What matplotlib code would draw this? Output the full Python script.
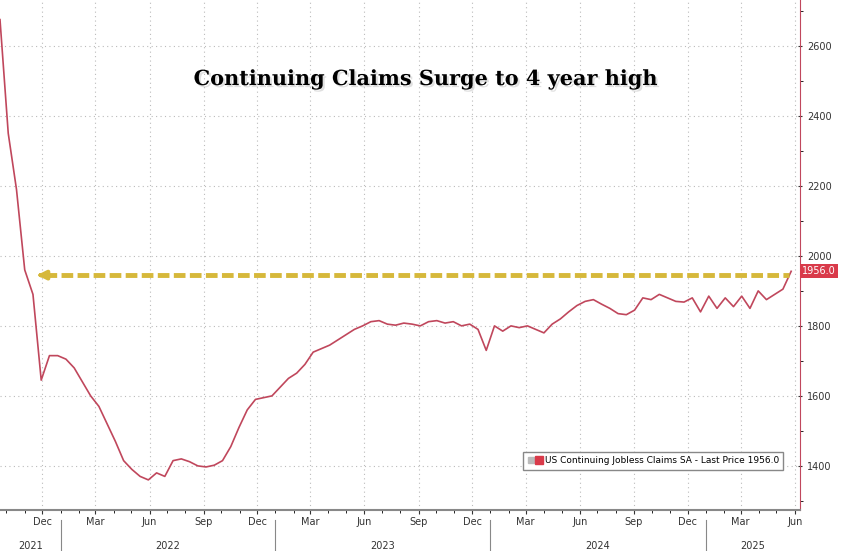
import matplotlib
matplotlib.use("Agg")
import matplotlib.pyplot as plt
import matplotlib.dates as mdates
import matplotlib.patheffects as pe
from matplotlib.lines import Line2D
from matplotlib.legend_handler import HandlerTuple
import pandas as pd

start = "2021-10-02"
claims = [2675, 2350, 2190, 1960, 1890, 1645, 1715, 1715, 1705, 1680,
          1640, 1600, 1570, 1520, 1470, 1415, 1390, 1370, 1360, 1380,
          1370, 1415, 1420, 1412, 1400, 1397, 1402, 1415, 1455, 1510,
          1560, 1590, 1595, 1600, 1625, 1650, 1665, 1690, 1725, 1735,
          1745, 1760, 1775, 1790, 1800, 1812, 1815, 1805, 1802, 1808,
          1805, 1800, 1812, 1815, 1808, 1812, 1800, 1805, 1790, 1730,
          1800, 1785, 1800, 1795, 1800, 1790, 1780, 1805, 1820, 1840,
          1858, 1870, 1875, 1862, 1850, 1835, 1832, 1845, 1880, 1875,
          1890, 1880, 1870, 1868, 1880, 1840, 1885, 1850, 1880, 1855,
          1885, 1850, 1900, 1875, 1890, 1905, 1956]
dates = pd.date_range(start, periods=len(claims), freq="14D") - pd.Timedelta(days=12)
last_price = 1956.0
title = "Continuing Claims Surge to 4 year high"
years = ["2021", "2022", "2023", "2024", "2025"]

fig = plt.figure(figsize=(8.48, 5.51), dpi=100)
ax = fig.add_axes([0, 1 - 510 / 551, 800 / 848, 510 / 551])

ax.plot(dates, claims, color="#c0475c", lw=1.2)

x0 = pd.Timestamp("2021-12-05")
x1 = dates[-1]
ax.plot([x0, x1 - pd.Timedelta(days=4)], [1945, 1945], color="#d6b83a",
        lw=3.5, ls=(0, (2.4, 0.9)))
ax.annotate("", xy=(x0 - pd.Timedelta(days=18), 1945), xytext=(x0, 1945),
            arrowprops=dict(arrowstyle="-|>", color="#d6b83a", lw=3,
                            mutation_scale=12))

xmin, xmax = pd.Timestamp("2021-09-20"), pd.Timestamp("2025-06-10")
ax.set_xlim(xmin, xmax)
ax.set_ylim(1274, 2731)
ax.yaxis.tick_right()
ax.set_yticks(range(1400, 2601, 200))
ax.set_yticks(range(1300, 2701, 100), minor=True)
ax.tick_params(axis="y", labelsize=7, colors="#333333", length=3, direction="inout")
ax.tick_params(axis="y", which="minor", length=2)
ax.xaxis.set_major_locator(mdates.MonthLocator(bymonth=[3, 6, 9, 12]))
ax.xaxis.set_major_formatter(mdates.DateFormatter("%b"))
ax.xaxis.set_minor_locator(mdates.MonthLocator())
ax.tick_params(axis="x", labelsize=7, colors="#333333", length=3, pad=2)
ax.grid(True, color="#bbbbbb", ls=(0, (1, 3)), lw=0.8)
for s in ["top", "left"]:
    ax.spines[s].set_visible(False)
ax.spines["right"].set_color("#c0475c")
ax.spines["bottom"].set_color("#888888")
ax.spines["bottom"].set_linewidth(1.5)

# year labels
bounds = [xmin] + [pd.Timestamp(f"{y}-01-01") for y in years[1:]] + [xmax]
for i, yr in enumerate(years):
    a, b = bounds[i], bounds[i + 1]
    mid = a + (b - a) / 2
    ax.text(mid, -0.07, yr, transform=ax.get_xaxis_transform(), ha="center",
            va="center", fontsize=7, color="#333333")
    if i > 0:
        ax.plot([a, a], [-0.02, -0.09], transform=ax.get_xaxis_transform(),
                color="#888888", lw=0.8, clip_on=False)

ax.text(0.533, 0.845, title, transform=ax.transAxes, ha="center", va="center",
        fontsize=15, fontweight="bold", family="DejaVu Serif",
        path_effects=[pe.withSimplePatchShadow(offset=(1.5, -1.5),
                                               shadow_rgbFace="#999999")])

ax.text(1.003, 1956, f"{last_price:.1f}", transform=ax.get_yaxis_transform(),
        ha="left", va="center", fontsize=7, color="white",
        bbox=dict(boxstyle="square,pad=0.2", fc="#d93a4a", ec="none"))

grey = Line2D([], [], marker="s", ls="none", color="#bbbbbb", markersize=5)
red = Line2D([], [], marker="s", ls="none", color="#d93a4a", markersize=6)
leg = ax.legend([(grey, red)],
                [f"US Continuing Jobless Claims SA - Last Price {last_price:.1f}"],
                handler_map={tuple: HandlerTuple(ndivide=None, pad=0.2)},
                loc="lower right", bbox_to_anchor=(0.985, 0.07), fontsize=6.5,
                fancybox=False, edgecolor="#888888", framealpha=1,
                handlelength=1.6, handletextpad=0.3, borderpad=0.5)
leg.get_frame().set_linewidth(1)

fig.savefig("out.png", dpi=100)
